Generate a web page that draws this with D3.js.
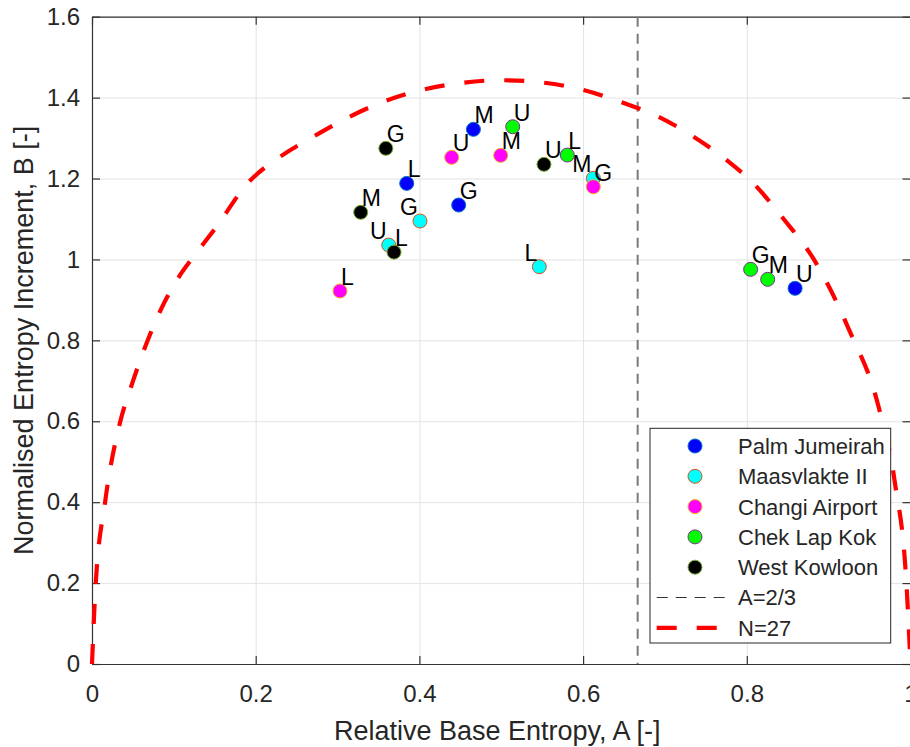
<!DOCTYPE html>
<html>
<head>
<meta charset="utf-8">
<script src="https://cdn.jsdelivr.net/npm/d3@7"></script>
<style>
  html, body { margin: 0; padding: 0; background: #fff; }
  svg { display: block; font-family: "Liberation Sans", Arial, Helvetica, sans-serif; }
</style>
</head>
<body>
<svg id="chart" width="910" height="747"></svg>
<script>
// Sites and the four cases measured at each site (order G, M, U, L)
const sites = ["Palm Jumeirah", "Maasvlakte II", "Changi Airport", "Chek Lap Kok", "West Kowloon"];
const caseLabels = ["G", "M", "U", "L"];

// Relative base entropy A per site, cases G, M, U, L
const palmA   = [0.448, 0.466, 0.859, 0.3845];
const maasA   = [0.4007, 0.6125, 0.3625, 0.5465];
const changiA = [0.6125, 0.4993, 0.4394, 0.303];
const chekA   = [0.8047, 0.8255, 0.514, 0.5807];
const westA   = [0.359, 0.3283, 0.5522, 0.369];

// Normalised entropy increment B per site, cases G, M, U, L
const palmB   = [1.1345, 1.3215, 0.9286, 1.188];
const maasB   = [1.095, 1.2004, 1.0356, 0.982];
const changiB = [1.1797, 1.2573, 1.2523, 0.922];
const chekB   = [0.9755, 0.9508, 1.328, 1.258];
const westB   = [1.2746, 1.1164, 1.235, 1.018];

// Threshold line and bounding curve for N = 27
const thresholdA = 2 / 3;
const boundA = [0, 0.004, 0.016, 0.034, 0.0485, 0.065, 0.083, 0.1075, 0.124, 0.15, 0.19, 0.23, 0.27, 0.311,
                0.356, 0.405, 0.454, 0.5, 0.551, 0.6, 0.645, 0.692, 0.735, 0.775, 0.808, 0.845, 0.881,
                0.925, 0.961, 0.981, 0.995, 1];
const boundB = [0, 0.18, 0.40, 0.595, 0.69, 0.784, 0.871, 0.961, 1.007, 1.075, 1.188, 1.254, 1.303, 1.349,
                1.39, 1.42, 1.437, 1.443, 1.437, 1.419, 1.39, 1.353, 1.303, 1.246, 1.188, 1.10, 1.003,
                0.826, 0.636, 0.447, 0.20, 0];

// Axis ticks
const xTicks = [0, 0.2, 0.4, 0.6, 0.8, 1];
const xTickLabels = ["0", "0.2", "0.4", "0.6", "0.8", "1"];
const yTicks = [0, 0.2, 0.4, 0.6, 0.8, 1, 1.2, 1.4, 1.6];
const yTickLabels = ["0", "0.2", "0.4", "0.6", "0.8", "1", "1.2", "1.4", "1.6"];

// ---- drawing ----
const siteA = [palmA, maasA, changiA, chekA, westA];
const siteB = [palmB, maasB, changiB, chekB, westB];
const siteFill = ["#0000ff", "#00ffff", "#ff00ff", "#00ff00", "#000000"];
const siteEdge = ["#0072bd", "#d95319", "#edb120", "#7e2f8e", "#77ac30"];
const siteLabelAnchor = ["start", "end", "start", "start", "start"];

const svg = d3.select("#chart");
const plotL = 92, plotR = 910.5, plotT = 16.7, plotB = 664;
const x = d3.scaleLinear().domain([0, 1]).range([plotL, plotR]);
const y = d3.scaleLinear().domain([0, 1.6]).range([plotB, plotT]);
const axisColor = "#333333";
const textColor = "#262626";

// grid
svg.append("g").attr("transform", `translate(0,${plotB})`)
  .call(d3.axisBottom(x).tickValues(xTicks).tickSize(-(plotB - plotT)).tickFormat(""))
  .call(g => g.select(".domain").remove())
  .call(g => g.selectAll("line").attr("stroke", "#e3e3e3").attr("stroke-width", 1));
svg.append("g").attr("transform", `translate(${plotL},0)`)
  .call(d3.axisLeft(y).tickValues(yTicks).tickSize(-(plotR - plotL)).tickFormat(""))
  .call(g => g.select(".domain").remove())
  .call(g => g.selectAll("line").attr("stroke", "#e3e3e3").attr("stroke-width", 1));

// axes with inward ticks on all four sides
function styleAxis(g, size) {
  g.select(".domain").attr("stroke", axisColor).attr("stroke-width", 1.2);
  g.selectAll(".tick line").attr("stroke", axisColor).attr("stroke-width", 1.2);
  g.selectAll("text").attr("fill", textColor).style("font-size", size + "px")
    .style("font-family", "'Liberation Sans', Arial, sans-serif");
}
svg.append("g").attr("transform", `translate(0,${plotB})`)
  .call(d3.axisBottom(x).tickValues(xTicks).tickFormat((d, i) => xTickLabels[i])
        .tickSizeInner(-8).tickSizeOuter(0).tickPadding(21))
  .call(g => styleAxis(g, 24));
svg.append("g").attr("transform", `translate(0,${plotT})`)
  .call(d3.axisTop(x).tickValues(xTicks).tickFormat("").tickSizeInner(-8).tickSizeOuter(0))
  .call(g => styleAxis(g, 24));
svg.append("g").attr("transform", `translate(${plotL},0)`)
  .call(d3.axisLeft(y).tickValues(yTicks).tickFormat((d, i) => yTickLabels[i])
        .tickSizeInner(-8).tickSizeOuter(0).tickPadding(12))
  .call(g => styleAxis(g, 24));
svg.append("g").attr("transform", `translate(${plotR},0)`)
  .call(d3.axisRight(y).tickValues(yTicks).tickFormat("").tickSizeInner(-8).tickSizeOuter(0))
  .call(g => styleAxis(g, 24));

// axis titles
svg.append("text")
  .attr("x", (plotL + plotR) / 2 - 4).attr("y", 740)
  .attr("text-anchor", "middle").attr("fill", textColor).style("font-size", "27px")
  .text("Relative Base Entropy, A [-]");
svg.append("text")
  .attr("transform", `translate(33,${(plotT + plotB) / 2}) rotate(-90)`)
  .attr("text-anchor", "middle").attr("fill", textColor).style("font-size", "27px")
  .text("Normalised Entropy Increment, B [-]");

// site points and case labels
sites.forEach((s, si) => {
  const pts = caseLabels.map((c, ci) => ({ a: siteA[si][ci], b: siteB[si][ci], c }));
  const g = svg.append("g");
  g.selectAll("circle").data(pts).join("circle")
    .attr("cx", d => x(d.a)).attr("cy", d => y(d.b)).attr("r", 7)
    .attr("fill", siteFill[si]).attr("stroke", siteEdge[si]).attr("stroke-width", 1);
  const anchor = siteLabelAnchor[si];
  g.selectAll("text").data(pts).join("text")
    .attr("x", d => x(d.a) + (anchor === "end" ? -2 : 1))
    .attr("y", d => y(d.b) - 6)
    .attr("text-anchor", anchor)
    .attr("fill", "#000").style("font-size", "23px")
    .text(d => d.c);
});

// threshold A = 2/3
svg.append("line")
  .attr("x1", x(thresholdA)).attr("x2", x(thresholdA))
  .attr("y1", y(1.6)).attr("y2", y(0))
  .attr("stroke", "#7a7a7a").attr("stroke-width", 2).attr("stroke-dasharray", "10,7");

// bounding curve N = 27
const line = d3.line().x((d, i) => x(boundA[i])).y((d, i) => y(boundB[i])).curve(d3.curveMonotoneX);
svg.append("path")
  .attr("d", line(boundA))
  .attr("fill", "none").attr("stroke", "#ff0000").attr("stroke-width", 4.2)
  .attr("stroke-dasharray", "20,20");

// legend
const lg = svg.append("g");
lg.append("rect").attr("x", 650).attr("y", 428.3).attr("width", 240.7).attr("height", 214.7)
  .attr("fill", "#fff").attr("stroke", "#262626").attr("stroke-width", 1);
const rowY = i => 446 + i * 30.3;
sites.forEach((s, i) => {
  lg.append("circle").attr("cx", 695).attr("cy", rowY(i)).attr("r", 7)
    .attr("fill", siteFill[i]).attr("stroke", siteEdge[i]).attr("stroke-width", 1);
  lg.append("text").attr("x", 738).attr("y", rowY(i)).attr("dy", "0.36em")
    .attr("fill", textColor).style("font-size", "22px").text(s);
});
lg.append("line").attr("x1", 656.7).attr("x2", 730).attr("y1", rowY(5)).attr("y2", rowY(5))
  .attr("stroke", "#333").attr("stroke-width", 1.2).attr("stroke-dasharray", "11,8");
lg.append("text").attr("x", 738).attr("y", rowY(5)).attr("dy", "0.36em")
  .attr("fill", textColor).style("font-size", "22px").text("A=2/3");
lg.append("line").attr("x1", 656.7).attr("x2", 730).attr("y1", rowY(6)).attr("y2", rowY(6))
  .attr("stroke", "#ff0000").attr("stroke-width", 4.2).attr("stroke-dasharray", "20,20");
lg.append("text").attr("x", 738).attr("y", rowY(6)).attr("dy", "0.36em")
  .attr("fill", textColor).style("font-size", "22px").text("N=27");
</script>
</body>
</html>
